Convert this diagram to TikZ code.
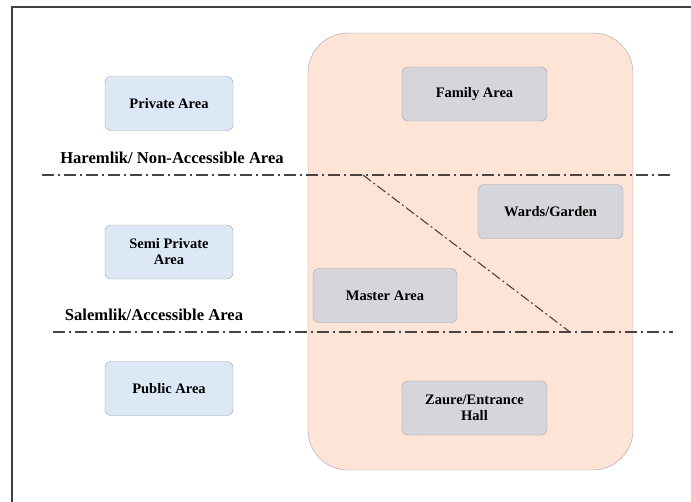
\documentclass[tikz,border=0pt]{standalone}
\usepackage{fontspec}
\setmainfont{Liberation Serif}
\definecolor{zoneblue}{HTML}{DCE8F6}
\definecolor{zonegray}{HTML}{D5D6DC}
\definecolor{housepeach}{HTML}{FDE4D7}
\definecolor{edgegray}{HTML}{A3A3A8}
\definecolor{splitline}{HTML}{4A4440}
\tikzset{
    zonebox/.style={draw=edgegray,fill=zoneblue,rounded corners=6pt,minimum width=128pt,minimum height=54pt,align=center,font=\bfseries\fontsize{14.5}{16}\selectfont},
    roombox/.style={draw=edgegray,fill=zonegray,rounded corners=6pt,minimum width=145pt,minimum height=54pt,align=center,font=\bfseries\fontsize{14.5}{16}\selectfont},
    splitter/.style={splitline,line width=1.9pt,dash pattern=on 12pt off 4pt on 2pt off 4pt},
    tag/.style={font=\bfseries\fontsize{16.6}{18}\selectfont,inner sep=0pt}
}
\begin{document}
\begin{tikzpicture}[x=1pt,y=-1pt]
    \useasboundingbox (0,0) rectangle (691,501);
    % frame
    \draw[gray!50!black,line width=1.3pt] (12,505) -- (12,7) -- (695,7);
    % the house
    \filldraw[fill=housepeach,draw=edgegray,rounded corners=40pt] (308,33) rectangle (633,470);
    % zones on the left
    \node[zonebox] (private) at (169,103.5) {Private Area};
    \node[zonebox] (semi) at (169,252) {Semi Private\\Area};
    \node[zonebox] (public) at (169,388.5) {Public Area};
    % rooms
    \node[roombox] (family) at (474.5,94) {Family Area};
    \node[roombox] (wards) at (550.5,211.5) {Wards/Garden};
    \node[roombox,minimum width=144pt] (master) at (385,295.5) {Master Area};
    \node[roombox] (zaure) at (474.5,408) {Zaure/Entrance\\Hall};
    % dividing lines
    \coordinate (h1) at (42,175);
    \coordinate (h2) at (673,175);
    \coordinate (s1) at (53,332);
    \coordinate (s2) at (673,332);
    \coordinate (d1) at (363,175);
    \coordinate (d2) at (570,332);
    \draw[splitter] (h1) -- (h2);
    \draw[splitter] (s1) -- (s2);
    \draw[splitline,line width=1.1pt,dash pattern=on 10pt off 3pt on 2pt off 3pt] (d1) -- (d2);
    \node[tag] (harem) at (172,158) {Haremlik/ Non-Accessible Area};
    \node[tag] (salem) at (154,315) {Salemlik/Accessible Area};
\end{tikzpicture}
\end{document}
